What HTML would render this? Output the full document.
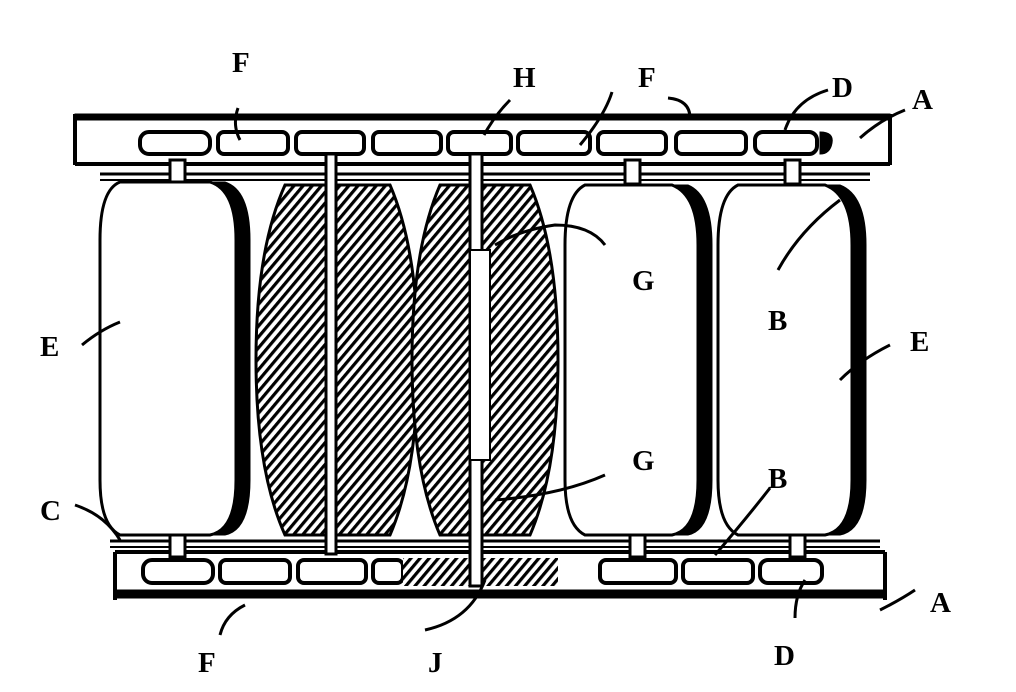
<!DOCTYPE html>
<html><head><meta charset="utf-8"><style>
html,body{margin:0;padding:0;background:#fff}
svg text{font-family:"Liberation Serif",serif;font-size:29px;font-weight:bold;fill:#000}
</style></head><body>
<svg width="1016" height="687" viewBox="0 0 1016 687" xmlns="http://www.w3.org/2000/svg">
<defs>
<pattern id="h" width="7" height="7" patternUnits="userSpaceOnUse" patternTransform="rotate(40)">
<rect width="7" height="7" fill="#fff"/><rect width="3.2" height="7" fill="#000"/>
</pattern>
</defs>
<g stroke="#000" fill="none">
<rect x="75" y="114" width="815" height="6" fill="#000"/>
<line x1="75" y1="114" x2="75" y2="165" stroke-width="4"/>
<line x1="890" y1="114" x2="890" y2="165" stroke-width="4"/>
<line x1="75" y1="164" x2="890" y2="164" stroke-width="4"/>
<line x1="100" y1="174" x2="870" y2="174" stroke-width="3"/>
<line x1="100" y1="180" x2="870" y2="180" stroke-width="2"/>
<g stroke-width="4">
<rect x="140" y="132" width="70" height="22" rx="9"/>
<rect x="218" y="132" width="70" height="22" rx="6"/>
<rect x="296" y="132" width="68" height="22" rx="6"/>
<rect x="373" y="132" width="68" height="22" rx="6"/>
<rect x="448" y="132" width="63" height="22" rx="6"/>
<rect x="518" y="132" width="72" height="22" rx="6"/>
<rect x="598" y="132" width="68" height="22" rx="6"/>
<rect x="676" y="132" width="70" height="22" rx="6"/>
<rect x="755" y="132" width="62" height="22" rx="8"/>
</g>
<path d="M820 132 q14 0 12 11 q-2 11 -12 11z" fill="#000"/>
<line x1="110" y1="541" x2="880" y2="541" stroke-width="3"/>
<line x1="110" y1="547" x2="880" y2="547" stroke-width="2"/>
<line x1="115" y1="552" x2="885" y2="552" stroke-width="4"/>
<line x1="115" y1="552" x2="115" y2="600" stroke-width="4"/>
<line x1="885" y1="552" x2="885" y2="600" stroke-width="4"/>
<rect x="115" y="590" width="770" height="8" fill="#000"/>
<g stroke-width="4">
<rect x="143" y="560" width="70" height="23" rx="9"/>
<rect x="220" y="560" width="70" height="23" rx="6"/>
<rect x="298" y="560" width="68" height="23" rx="6"/>
<rect x="373" y="560" width="30" height="23" rx="6"/>
<rect x="600" y="560" width="76" height="23" rx="6"/>
<rect x="683" y="560" width="70" height="23" rx="6"/>
<rect x="760" y="560" width="62" height="23" rx="8"/>
</g>
<rect x="403" y="558" width="155" height="28" fill="url(#h)" stroke="none"/>
<g stroke-width="3" fill="#fff">
<rect x="170" y="160" width="15" height="24"/>
<rect x="625" y="160" width="15" height="24"/>
<rect x="785" y="160" width="15" height="24"/>
<rect x="170" y="535" width="15" height="22"/>
<rect x="630" y="535" width="15" height="22"/>
<rect x="790" y="535" width="15" height="22"/>
</g>
<path d="M120 182 H225 Q250 190 250 240 V480 Q250 530 225 535 H120 Q100 525 100 480 V240 Q100 190 120 182Z" fill="#000"/>
<path d="M120 182 H210 Q236 190 236 240 V480 Q236 530 210 535 H120 Q100 525 100 480 V240 Q100 190 120 182Z" fill="#fff" stroke-width="3"/>
<path d="M585 185 H688 Q712 195 712 245 V480 Q712 530 688 535 H585 Q565 525 565 480 V245 Q565 195 585 185Z" fill="#000"/>
<path d="M585 185 H672 Q698 195 698 245 V480 Q698 530 672 535 H585 Q565 525 565 480 V245 Q565 195 585 185Z" fill="#fff" stroke-width="3"/>
<path d="M738 185 H840 Q866 195 866 245 V480 Q866 530 840 535 H738 Q718 525 718 480 V245 Q718 195 738 185Z" fill="#000"/>
<path d="M738 185 H825 Q852 195 852 245 V480 Q852 530 825 535 H738 Q718 525 718 480 V245 Q718 195 738 185Z" fill="#fff" stroke-width="3"/>
<path d="M285 185 H390 Q418 250 418 360 Q418 470 390 535 H285 Q256 470 256 360 Q256 250 285 185Z" fill="url(#h)" stroke-width="3"/>
<path d="M440 185 H530 Q558 250 558 360 Q558 470 530 535 H440 Q412 470 412 360 Q412 250 440 185Z" fill="url(#h)" stroke-width="3"/>
<rect x="326" y="154" width="10" height="400" fill="#fff" stroke-width="3"/>
<rect x="470" y="154" width="12" height="432" fill="#fff" stroke-width="3"/>
<rect x="470" y="250" width="20" height="210" fill="#fff" stroke-width="2"/>
<g stroke-width="3">
<path d="M238 108 Q232 125 240 140"/>
<path d="M510 100 Q495 115 484 135"/>
<path d="M612 92 Q605 115 580 145"/>
<path d="M668 98 Q690 100 690 118"/>
<path d="M828 90 Q795 100 785 130"/>
<path d="M905 110 Q880 120 860 138"/>
<path d="M605 245 Q590 225 555 225 Q520 230 495 245"/>
<path d="M840 200 Q800 230 778 270"/>
<path d="M890 345 Q860 360 840 380"/>
<path d="M82 345 Q100 330 120 322"/>
<path d="M605 475 Q560 495 495 500"/>
<path d="M770 488 Q745 520 715 555"/>
<path d="M75 505 Q105 515 120 540"/>
<path d="M915 590 Q900 600 880 610"/>
<path d="M220 635 Q225 615 245 605"/>
<path d="M425 630 Q470 620 485 580"/>
<path d="M795 618 Q795 595 805 580"/>
</g>
</g>
<text x="232" y="72">F</text>
<text x="513" y="87">H</text>
<text x="638" y="87">F</text>
<text x="832" y="97">D</text>
<text x="912" y="109">A</text>
<text x="632" y="290">G</text>
<text x="768" y="330">B</text>
<text x="910" y="351">E</text>
<text x="40" y="356">E</text>
<text x="632" y="470">G</text>
<text x="768" y="488">B</text>
<text x="40" y="520">C</text>
<text x="930" y="612">A</text>
<text x="198" y="672">F</text>
<text x="428" y="672">J</text>
<text x="774" y="665">D</text>
</svg>
</body></html>
